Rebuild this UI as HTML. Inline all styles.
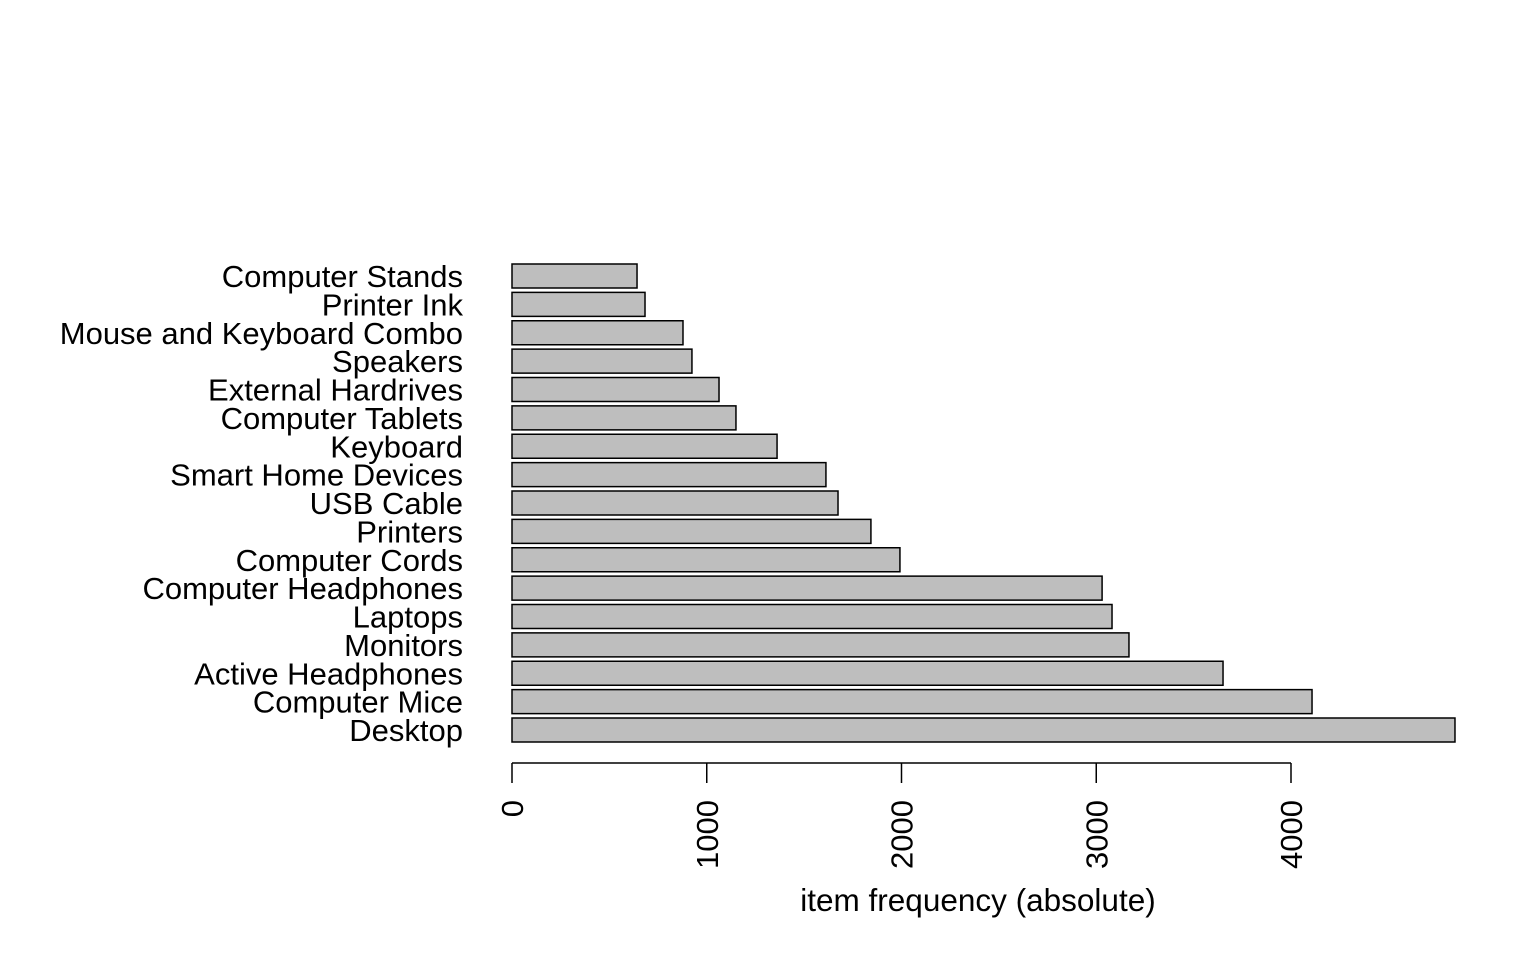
<!DOCTYPE html>
<html><head><meta charset="utf-8"><style>
html,body{margin:0;padding:0;background:#fff;}
svg{display:block;font-family:"Liberation Sans",Arial,sans-serif;}
</style></head><body>
<svg id="chart" width="1536" height="960" viewBox="0 0 1536 960"></svg>
<script>
const categories=["Computer Stands","Printer Ink","Mouse and Keyboard Combo","Speakers","External Hardrives","Computer Tablets","Keyboard","Smart Home Devices","USB Cable","Printers","Computer Cords","Computer Headphones","Laptops","Monitors","Active Headphones","Computer Mice","Desktop"];
const values=[642,683,878,924,1063,1150,1361,1612,1674,1843,1992,3030,3081,3168,3651,4108,4842];
const ticks=[0,1000,2000,3000,4000];
const tickLabels=["0","1000","2000","3000","4000"];
const NS="http://www.w3.org/2000/svg";
const svg=document.getElementById('chart');
const x0=512, pxPer=0.19475;
const xs=v=>x0+v*pxPer;
const yTop=264, step=28.375, bh=24;
const ys=i=>yTop+i*step;
function mk(t,a,txt){const e=document.createElementNS(NS,t);for(const k in a)e.setAttribute(k,a[k]);if(txt!==undefined)e.textContent=txt;svg.appendChild(e);return e;}
categories.forEach((c,i)=>{
  const r=mk('rect',{x:xs(0),y:ys(i),width:xs(values[i])-xs(0),height:bh,fill:'#bebebe',stroke:'#000','stroke-width':1.5});
  
  
  const t=mk('text',{x:463,y:ys(i)+bh/2+11,'text-anchor':'end','font-size':31,fill:'#000'},c);
  
  
});
const ax=mk('line',{x1:xs(ticks[0]),x2:xs(ticks[ticks.length-1]),y1:763,y2:763,stroke:'#000','stroke-width':1.5});


ticks.forEach((v,i)=>{
  const l=mk('line',{x1:xs(v),x2:xs(v),y1:763,y2:783,stroke:'#000','stroke-width':1.5});
  
  
  const t=mk('text',{x:0,y:0,'text-anchor':'end','font-size':31,fill:'#000',transform:`translate(${xs(v)+11},800) rotate(-90)`},tickLabels[i]);
  
  
});
const ti=mk('text',{x:978,y:911,'text-anchor':'middle','font-size':31.5,fill:'#000'},'item frequency (absolute)');


</script>
</body></html>
